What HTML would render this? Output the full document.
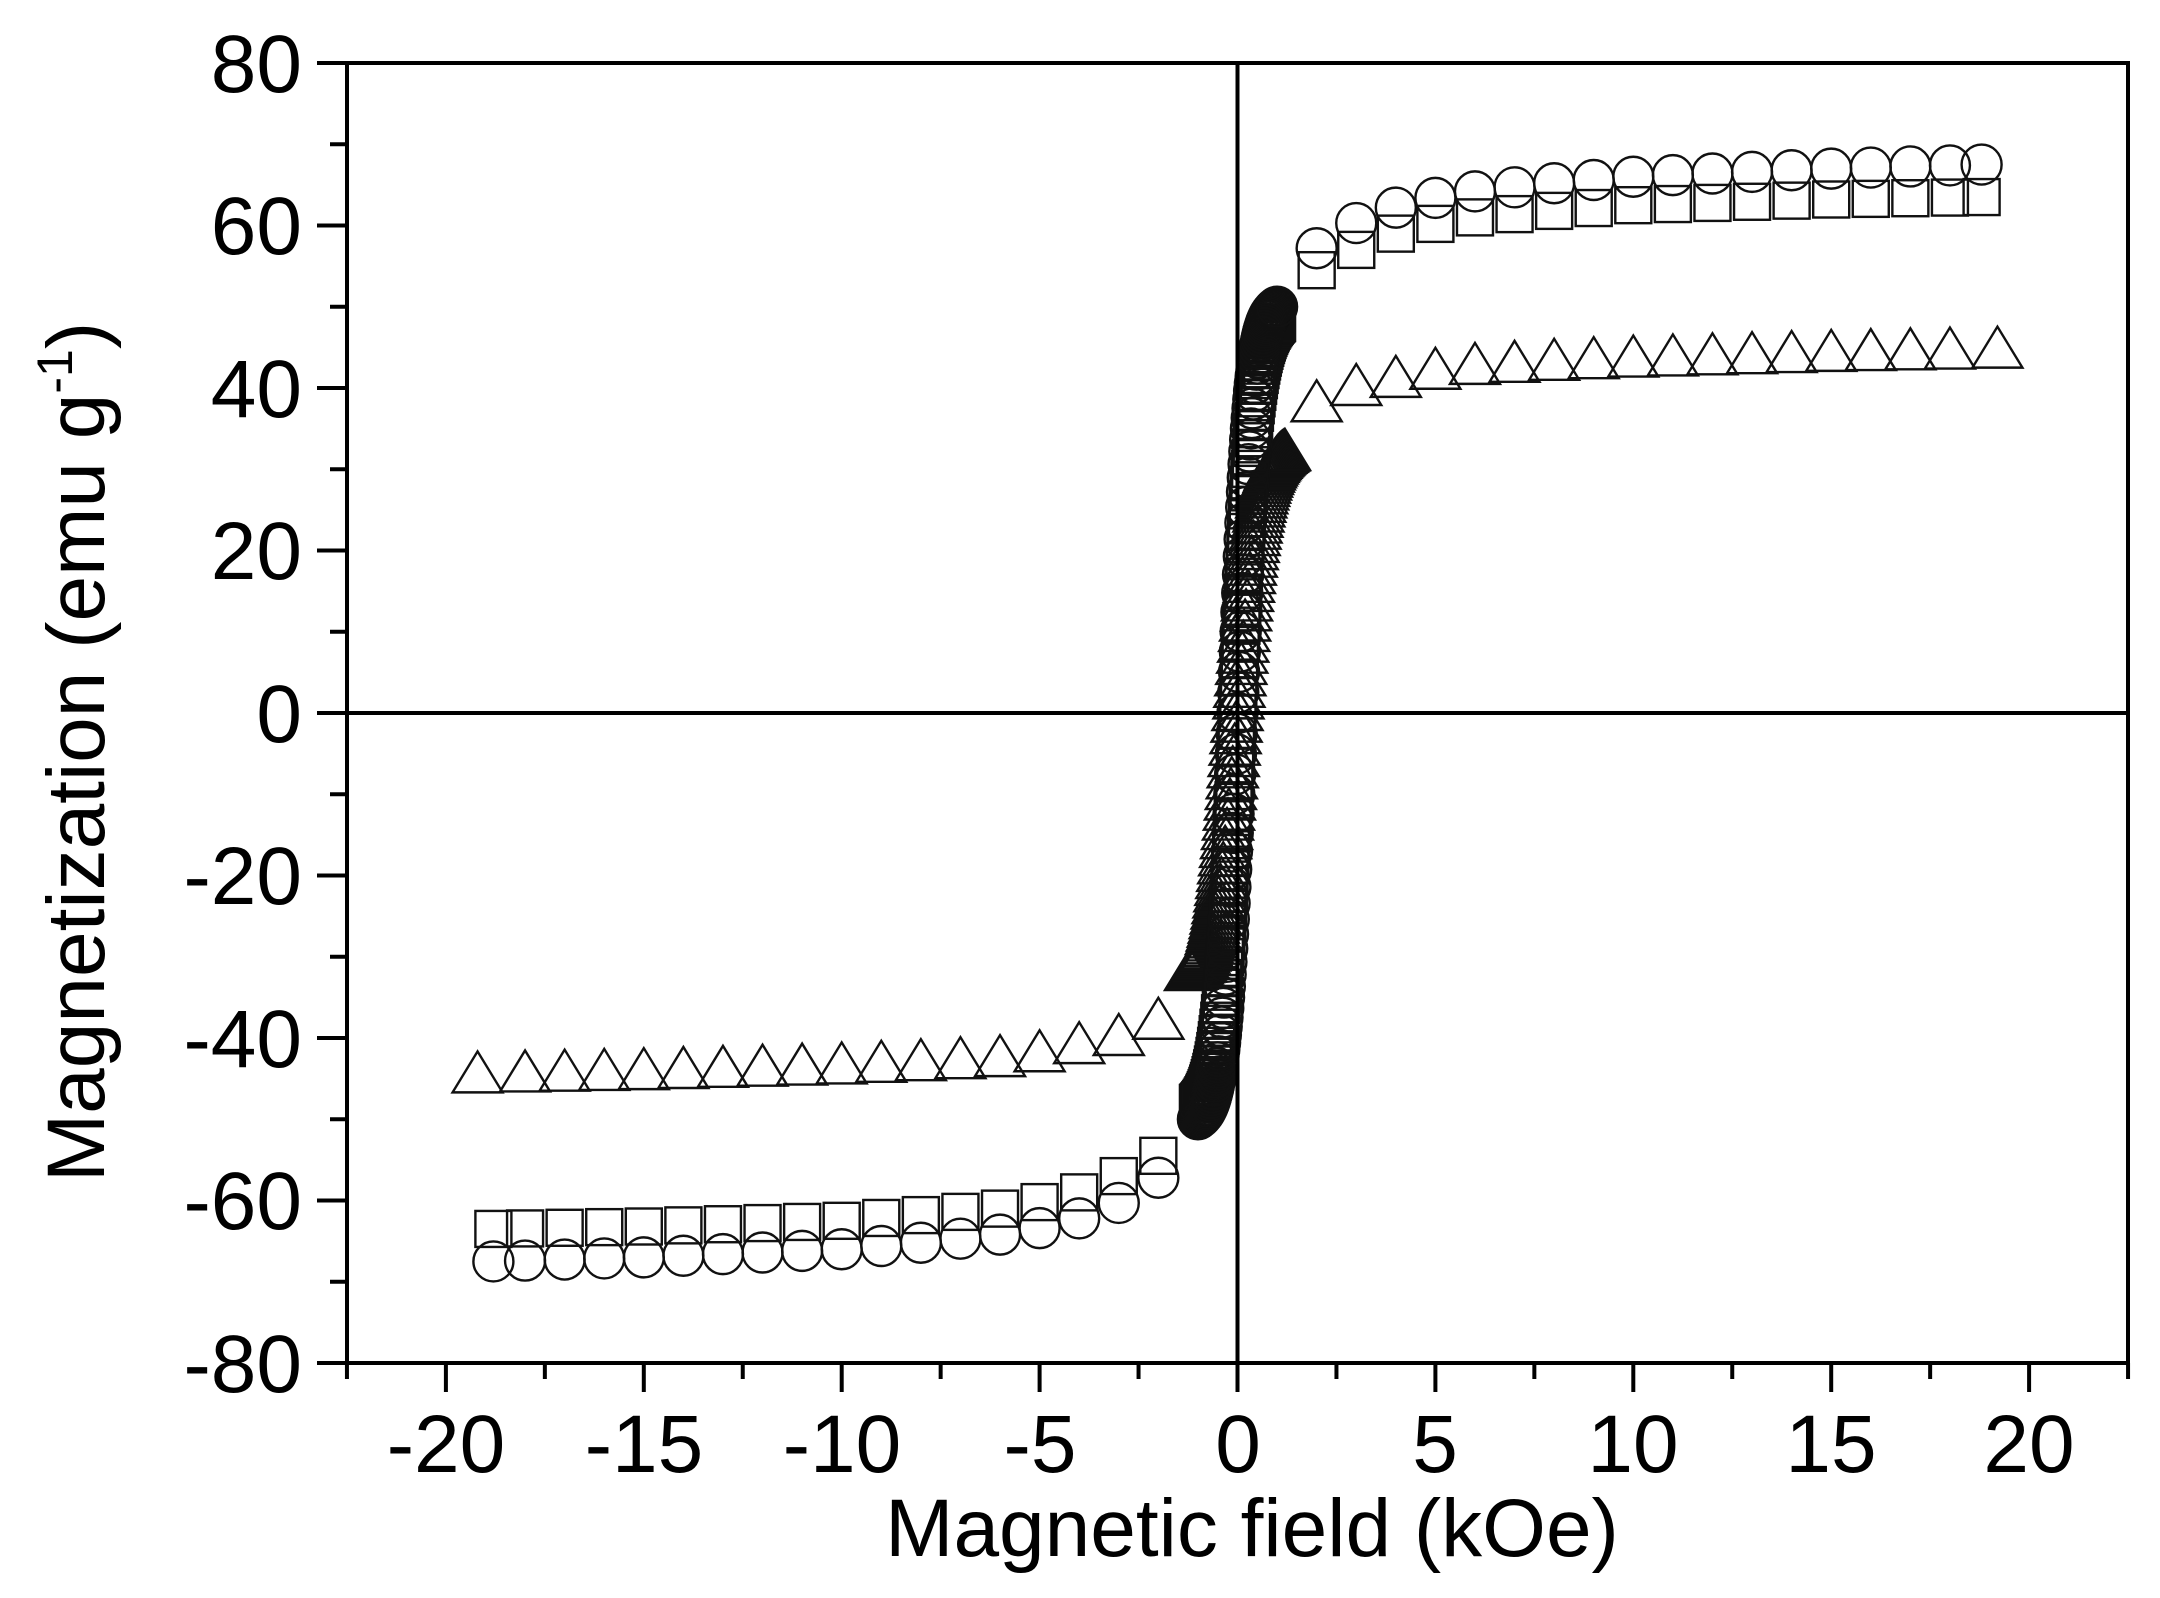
<!DOCTYPE html>
<html><head><meta charset="utf-8"><style>
html,body{margin:0;padding:0;background:#fff;}
svg{display:block;font-family:"Liberation Sans",Arial,sans-serif;}
</style></head><body>
<svg id="s" width="2160" height="1598" viewBox="0 0 2160 1598" xmlns="http://www.w3.org/2000/svg">
<g id="marks" fill="none" stroke="#111" stroke-width="2.4"></g>
<rect x="347" y="63" width="1781" height="1300" fill="none" stroke="#000" stroke-width="4"/>
<line x1="1237.5" y1="63" x2="1237.5" y2="1363" stroke="#000" stroke-width="4"/>
<line x1="347" y1="713" x2="2128" y2="713" stroke="#000" stroke-width="4"/>
<g id="ticks" stroke="#000" stroke-width="4"></g>
<g font-size="82" fill="#000" text-anchor="end">
<text x="302" y="92">80</text>
<text x="302" y="254">60</text>
<text x="302" y="417">40</text>
<text x="302" y="579">20</text>
<text x="302" y="742">0</text>
<text x="302" y="904">-20</text>
<text x="302" y="1067">-40</text>
<text x="302" y="1229">-60</text>
<text x="302" y="1392">-80</text>
</g>
<g font-size="82" fill="#000" text-anchor="middle">
<text x="446" y="1472">-20</text>
<text x="644" y="1472">-15</text>
<text x="842" y="1472">-10</text>
<text x="1040" y="1472">-5</text>
<text x="1238" y="1472">0</text>
<text x="1435" y="1472">5</text>
<text x="1633" y="1472">10</text>
<text x="1831" y="1472">15</text>
<text x="2029" y="1472">20</text>
</g>
<text x="1252" y="1556" font-size="82" text-anchor="middle">Magnetic field (kOe)</text>
<text transform="translate(104,752) rotate(-90)" font-size="82" text-anchor="middle">Magnetization (emu g<tspan dy="-32" font-size="50">-1</tspan><tspan dy="32">)</tspan></text>
</svg>
<script>
var NS="http://www.w3.org/2000/svg";
function X(h){return 1237.5+h*39.58;} function Y(m){return 713-m*8.125;}
var t=document.getElementById('ticks'),g=document.getElementById('marks');
function ln(x1,y1,x2,y2){var l=document.createElementNS(NS,'line');l.setAttribute('x1',x1);l.setAttribute('y1',y1);l.setAttribute('x2',x2);l.setAttribute('y2',y2);t.appendChild(l);}
for(var m=-80;m<=80;m+=10){var y=Y(m);ln(347,y,347-(m%20==0?30:17),y);}
for(var h=-22.5;h<=22.5;h+=2.5){var x=X(h);ln(x,1363,x,1363+(h%5==0?29:16));}
function interp(tab,h){for(var i=0;i<tab.length-1;i++){if(h<=tab[i+1][0])return tab[i][1]+(tab[i+1][1]-tab[i][1])*(h-tab[i][0])/(tab[i+1][0]-tab[i][0]);}return tab[tab.length-1][1];}
var C=[[2,57.2],[3,60.3],[4,62.2],[5,63.4],[6,64.2],[8,65.2],[10,66],[15,67],[18.8,67.5]];
var S=[[2,54.5],[3,57],[4,59],[5,60.2],[6,61],[8,61.8],[10,62.5],[15,63.2],[18.8,63.5]];
var T=[[2,38],[3,40],[4,41],[5,42],[6,42.6],[8,43.1],[10,43.5],[15,44.2],[19.2,44.6]];
function circ(h,m){var c=document.createElementNS(NS,'circle');c.setAttribute('cx',X(h));c.setAttribute('cy',Y(m));c.setAttribute('r',20);g.appendChild(c);}
function sq(h,m){var r=document.createElementNS(NS,'rect');r.setAttribute('x',X(h)-18);r.setAttribute('y',Y(m)-18);r.setAttribute('width',36);r.setAttribute('height',36);g.appendChild(r);}
function tri(h,m){var x=X(h),y=Y(m),p=document.createElementNS(NS,'polygon');p.setAttribute('points',(x-25)+','+(y+17)+' '+(x+25)+','+(y+17)+' '+x+','+(y-24));g.appendChild(p);}
function series(tab,fn,low,k,hmax){
  var hs=[2,3,4,5,6,7,8,9,10,11,12,13,14,15,16,17,18,tab[tab.length-1][0]];
  hs.forEach(function(h){var m=interp(tab,h);fn(h,m);fn(-h,-m);});
  for(var i=-50;i<=50;i++){var h=i/50*hmax;var m=low*Math.tanh(h/k)/Math.tanh(hmax/k);fn(h,m);}
}
series(T,tri,32,0.55,1.2);
series(S,sq,48,0.45,1.0);
series(C,circ,50,0.4,1.0);
</script>
</body></html>
